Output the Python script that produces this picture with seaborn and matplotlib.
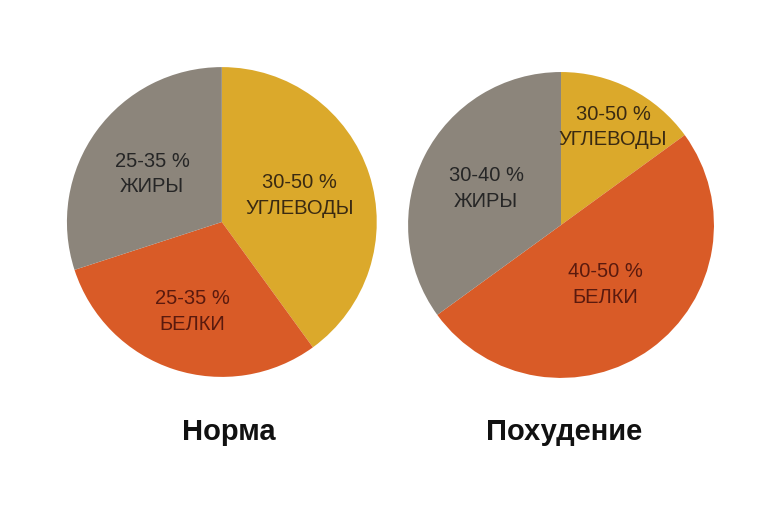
import matplotlib
matplotlib.use("Agg")
import matplotlib.pyplot as plt
import seaborn as sns

# shares of each macro in the daily diet
nutrients = ["УГЛЕВОДЫ", "БЕЛКИ", "ЖИРЫ"]
norm_share = [40, 30, 30]
diet_share = [15, 50, 35]
norm_ranges = ["30-50 %", "25-35 %", "25-35 %"]
diet_ranges = ["30-50 %", "40-50 %", "30-40 %"]
titles = ["Норма", "Похудение"]

colors = ["#dba92b", "#d95b27", "#8c857b"]
text_colors = ["#3a2a12", "#5a1a0e", "#262626"]

sns.set_theme(style="white")
plt.rcParams["font.family"] = ["Liberation Sans", "DejaVu Sans"]

fig = plt.figure(figsize=(7.7, 5.12), dpi=100)
fig.patch.set_facecolor("white")


def draw_pie(rect, shares, ranges, label_pos, title, title_x):
    ax = fig.add_axes(rect)
    ax.pie(shares, colors=colors, startangle=90, counterclock=False,
           radius=1, wedgeprops=dict(linewidth=0))
    for i, (x, y) in enumerate(label_pos):
        ax.text(x, y, f"{ranges[i]}\n{nutrients[i]}", ha="center", va="center",
                fontsize=14.5, color=text_colors[i], linespacing=1.45)
    ax.set_xlim(-1.02, 1.02)
    ax.set_ylim(-1.02, 1.02)
    ax.set_aspect("equal")
    ax.axis("off")
    fig.text(title_x, 1 - 432 / 512, title, ha="center", va="center",
             fontsize=21, fontweight="bold", color="#111111")


draw_pie([0.0829, 0.2578, 0.4104, 0.6172], norm_share, norm_ranges,
         [(0.50, 0.17), (-0.19, -0.58), (-0.45, 0.31)], titles[0], 229 / 770)
draw_pie([0.5260, 0.2559, 0.4052, 0.6094], diet_share, diet_ranges,
         [(0.34, 0.64), (0.29, -0.39), (-0.49, 0.24)], titles[1], 564 / 770)

fig.savefig("out.png", dpi=100, facecolor="white")
